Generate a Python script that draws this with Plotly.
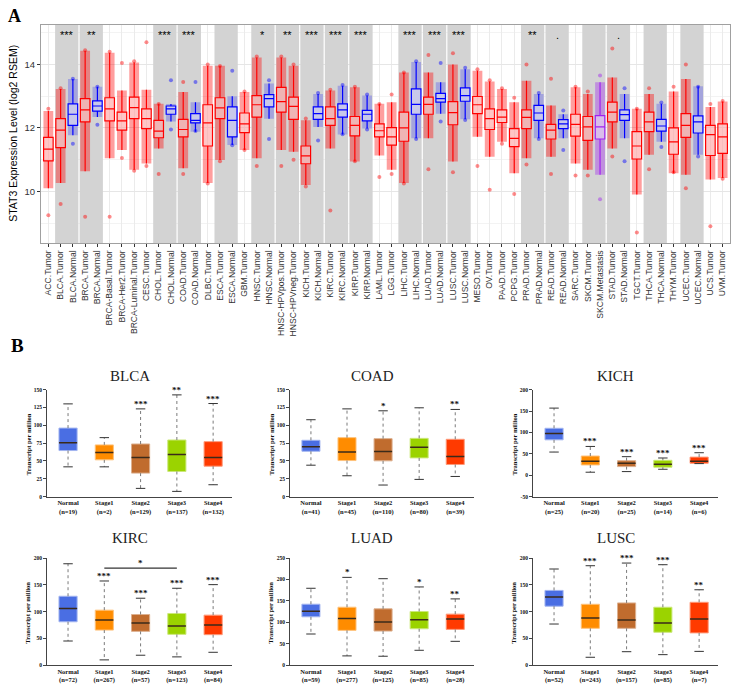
import plotly.graph_objects as go

# ---------------- Panel A data (STAT3 expression, log2 RSEM) ----------------
A_CATS = ["ACC.Tumor", "BLCA.Tumor", "BLCA.Normal", "BRCA.Tumor", "BRCA.Normal",
          "BRCA-Basal.Tumor", "BRCA-Her2.Tumor", "BRCA-Luminal.Tumor", "CESC.Tumor",
          "CHOL.Tumor", "CHOL.Normal", "COAD.Tumor", "COAD.Normal", "DLBC.Tumor",
          "ESCA.Tumor", "ESCA.Normal", "GBM.Tumor", "HNSC.Tumor", "HNSC.Normal",
          "HNSC-HPVpos.Tumor", "HNSC-HPVneg.Tumor", "KICH.Tumor", "KICH.Normal",
          "KIRC.Tumor", "KIRC.Normal", "KIRP.Tumor", "KIRP.Normal", "LAML.Tumor",
          "LGG.Tumor", "LIHC.Tumor", "LIHC.Normal", "LUAD.Tumor", "LUAD.Normal",
          "LUSC.Tumor", "LUSC.Normal", "MESO.Tumor", "OV.Tumor", "PAAD.Tumor",
          "PCPG.Tumor", "PRAD.Tumor", "PRAD.Normal", "READ.Tumor", "READ.Normal",
          "SARC.Tumor", "SKCM.Tumor", "SKCM.Metastasis", "STAD.Tumor", "STAD.Normal",
          "TGCT.Tumor", "THCA.Tumor", "THCA.Normal", "THYM.Tumor", "UCEC.Tumor",
          "UCEC.Normal", "UCS.Tumor", "UVM.Tumor"]
A_GROUP = ["T", "T", "N", "T", "N", "T", "T", "T", "T", "T", "N", "T", "N", "T",
           "T", "N", "T", "T", "N", "T", "T", "T", "N", "T", "N", "T", "N", "T",
           "T", "T", "N", "T", "N", "T", "N", "T", "T", "T", "T", "T", "N", "T",
           "N", "T", "T", "M", "T", "N", "T", "T", "N", "T", "T", "N", "T", "T"]
A_Q1 = [10.96, 11.38, 12.08, 12.19, 12.53, 12.22, 11.93, 12.29, 11.98, 11.69, 12.43,
        11.72, 12.16, 11.43, 12.29, 11.72, 11.85, 12.34, 12.66, 12.50, 12.27, 10.87,
        12.27, 12.08, 12.34, 11.75, 12.22, 11.72, 11.46, 11.58, 12.43, 12.43, 12.81,
        12.10, 12.84, 12.45, 11.95, 12.17, 11.41, 11.98, 12.24, 11.65, 11.98, 11.74,
        11.61, 11.65, 12.19, 12.24, 11.02, 11.88, 11.90, 11.17, 11.70, 11.84, 11.13,
        11.20]
A_MED = [11.33, 11.93, 12.43, 12.57, 12.69, 12.60, 12.22, 12.64, 12.29, 11.90, 12.60,
         11.95, 12.24, 12.16, 12.63, 12.24, 12.13, 12.73, 12.92, 12.83, 12.68, 11.12,
         12.45, 12.29, 12.57, 12.08, 12.43, 11.91, 11.72, 12.00, 12.74, 12.74, 12.92,
         12.48, 13.02, 12.73, 12.29, 12.34, 11.67, 12.33, 12.47, 11.93, 12.13, 12.11,
         12.03, 12.03, 12.50, 12.42, 11.43, 12.19, 12.06, 11.56, 12.08, 12.19, 11.79,
         11.72]
A_Q3 = [11.70, 12.29, 12.76, 12.92, 12.85, 12.95, 12.50, 12.97, 12.60, 12.24, 12.69,
        12.27, 12.45, 12.73, 12.95, 12.66, 12.47, 13.02, 13.05, 13.28, 12.97, 11.43,
        12.66, 12.66, 12.76, 12.36, 12.55, 12.13, 12.01, 12.50, 13.23, 12.97, 13.09,
        12.83, 13.26, 12.99, 12.60, 12.57, 11.98, 12.57, 12.71, 12.11, 12.26, 12.43,
        12.36, 12.39, 12.81, 12.57, 11.88, 12.50, 12.27, 12.00, 12.45, 12.38, 12.08,
        12.13]
A_LO = [10.10, 10.26, 11.77, 10.63, 12.34, 11.04, 11.30, 10.68, 10.88, 11.35, 12.20,
        10.73, 11.88, 10.26, 10.99, 11.46, 11.30, 11.04, 12.29, 11.30, 11.25, 10.20,
        12.03, 11.35, 11.79, 10.94, 11.98, 11.13, 10.68, 10.26, 11.67, 11.67, 12.45,
        10.94, 12.27, 11.72, 11.09, 11.56, 10.57, 11.04, 11.67, 11.09, 11.67, 10.88,
        10.68, 10.52, 11.35, 11.67, 9.90, 11.15, 11.56, 10.57, 10.52, 11.15, 10.37,
        10.42]
A_HI = [12.53, 13.23, 13.54, 14.43, 13.30, 14.37, 13.18, 14.06, 13.20, 12.76, 12.75,
        13.13, 12.81, 13.96, 13.96, 13.00, 13.13, 14.22, 13.40, 14.22, 13.96, 12.24,
        13.07, 13.18, 13.33, 13.28, 13.02, 12.76, 12.81, 13.75, 14.08, 13.75, 13.44,
        14.00, 13.85, 13.80, 13.46, 13.23, 12.81, 13.49, 13.07, 12.71, 12.43, 13.28,
        13.07, 13.44, 13.59, 13.07, 12.60, 13.07, 12.76, 13.15, 13.54, 13.31, 12.66,
        12.83]
A_PT_LO = [9.25, 9.60, 11.50, 9.20, 12.10, 9.20, 11.05, 10.65, 10.80, 10.55, 11.95,
           10.55, 11.90, 10.25, 10.95, 11.45, 11.30, 10.80, 11.65, 10.80, 11.00, 10.15,
           11.60, 9.40, 11.80, 10.95, 11.95, 10.45, 10.55, 10.25, 11.65, 10.70, 12.20,
           10.60, 12.25, 10.80, 10.05, 11.50, 9.92, 10.85, 11.65, 10.55, 11.30, 10.50,
           10.50, 9.75, 11.10, 10.95, 8.70, 10.70, 11.40, 10.60, 10.10, 11.10, 8.90,
           10.40]
A_PT_HI = [12.60, 13.25, 13.55, 14.45, 13.30, 14.40, 14.05, 14.10, 14.70, 12.75, 13.50,
           13.45, 13.45, 14.00, 13.95, 13.80, 13.15, 14.25, 13.50, 14.25, 14.00, 12.30,
           13.10, 13.20, 13.35, 13.30, 13.05, 12.75, 13.05, 13.75, 14.10, 14.30, 14.05,
           14.35, 13.90, 13.85, 13.50, 13.25, 12.95, 14.00, 13.10, 13.55, 12.55, 13.30,
           13.15, 13.65, 14.50, 13.25, 12.60, 13.25, 12.80, 13.30, 14.00, 13.30, 12.75,
           12.85]
# tumour/normal pairs shaded in grey (index of first member) and significance labels
A_PAIR_START = [1, 3, 9, 11, 14, 17, 19, 21, 23, 25, 29, 31, 33, 39, 41, 44, 46, 49, 52]
A_PAIR_SIG = ["***", "**", "***", "***", "", "*", "**", "***", "***", "***", "***",
              "***", "***", "**", ".", "", ".", "", ""]
A_YRANGE = [8.375, 15.25]

# ---------------- Panel B data (Transcript per million by stage) ----------------
B_CANCERS = ["BLCA", "COAD", "KICH", "KIRC", "LUAD", "LUSC"]
B_GROUPS = ["Normal", "Stage1", "Stage2", "Stage3", "Stage4"]
B_N = [[19, 2, 129, 137, 132], [41, 45, 110, 80, 39], [25, 20, 25, 14, 6],
       [72, 267, 57, 123, 84], [59, 277, 125, 85, 28], [52, 243, 157, 85, 7]]
B_Q1 = [[64.6, 51.6, 33.0, 35.3, 42.7], [63.6, 50.6, 50.2, 54.3, 45.1],
        [82.7, 24.1, 20.2, 18.7, 27.9], [81.1, 65.6, 63.2, 57.6, 57.0],
        [113.0, 81.3, 79.7, 85.1, 83.6], [110.2, 68.9, 68.9, 61.5, 60.3]]
B_MED = [[75.7, 61.8, 54.8, 59.0, 54.8], [70.1, 62.7, 63.2, 69.2, 56.2],
         [97.4, 32.6, 27.9, 25.6, 32.6], [105.9, 84.2, 78.6, 73.1, 74.9],
         [126.2, 109.1, 100.6, 106.0, 107.6], [127.4, 88.0, 84.3, 78.8, 86.2]]
B_Q3 = [[96.1, 72.5, 73.8, 79.4, 77.1], [79.0, 82.7, 81.3, 81.7, 80.4],
        [109.7, 44.9, 34.1, 34.9, 42.4], [128.8, 102.8, 94.7, 96.6, 93.5],
        [142.4, 135.4, 131.6, 125.4, 119.2], [139.7, 113.8, 116.3, 108.3, 117.5]]
B_LO = [[41.8, 41.8, 11.6, 7.4, 16.7], [44.1, 29.3, 16.3, 24.2, 28.3],
        [54.2, 7.1, 8.6, 14.0, 27.2], [45.2, 9.9, 18.6, 15.5, 24.1],
        [72.8, 21.7, 20.9, 34.8, 55.7], [76.9, 14.8, 25.2, 19.7, 25.8]]
B_HI = [[130.0, 82.7, 123.0, 142.6, 130.5], [107.8, 123.0, 120.3, 124.5, 122.2],
        [156.8, 67.3, 43.4, 40.3, 52.6], [189.5, 157.3, 125.1, 143.7, 150.5],
        [179.6, 205.1, 202.0, 182.7, 154.8], [179.7, 185.8, 190.8, 187.7, 140.9]]
B_SIG = [["", "", "***", "**", "***"], ["", "", "*", "", "**"],
         ["", "***", "***", "***", "***"], ["", "***", "***", "***", "***"],
         ["", "*", "", "*", "**"], ["", "***", "***", "***", "**"]]
B_YRANGE = [[0, 150], [0, 150], [-50, 200], [0, 200], [0, 250], [0, 200]]
B_YDTICK = [25, 25, 50, 50, 50, 50]
# KIRC Stage1 vs Stage3 bracket
KIRC_BRACKET = {"from": 1, "to": 3, "y": 181.4, "sig": "*"}

# ---------------- styling ----------------
W, H = 735, 690
def fx(p):
    return p / W
def fy(p):
    return 1 - p / H

GROUP_RGB = {"T": (255, 0, 0), "N": (0, 0, 255), "M": (160, 32, 240)}
GROUP_ALPHA = {"T": 0.38, "N": 0.22, "M": 0.38}
B_FILL = ["#4A6EE3", "#FF8C00", "#C06C2E", "#9BD300", "#FF3A00"]
B_EDGE = ["#A3B5F0", "#FFC27A", "#DDB08F", "#CBE87A", "#FF9A7A"]
SERIF = "Liberation Serif, Times New Roman, serif"
SANS = "Liberation Sans, Arial, sans-serif"

fig = go.Figure()

# ---- Panel A ----
nA = len(A_CATS)
xs = list(range(nA))
fig.add_trace(go.Bar(
    x=[s + 0.5 for s in A_PAIR_START], base=[A_YRANGE[0]] * len(A_PAIR_START),
    y=[A_YRANGE[1] - A_YRANGE[0]] * len(A_PAIR_START), width=1.9,
    marker=dict(color="#D3D3D3", line=dict(width=0)), hoverinfo="skip",
    showlegend=False, xaxis="x", yaxis="y"))

for g, (r, gg, b) in GROUP_RGB.items():
    idx = [i for i in xs if A_GROUP[i] == g]
    al = GROUP_ALPHA[g]
    fig.add_trace(go.Bar(
        x=idx, base=[A_LO[i] for i in idx],
        y=[A_HI[i] - A_LO[i] for i in idx], width=0.8,
        marker=dict(color=f"rgba({r},{gg},{b},{al})", line=dict(width=0)),
        hoverinfo="skip", showlegend=False, xaxis="x", yaxis="y"))
    fig.add_trace(go.Scatter(
        x=idx + idx, y=[A_PT_LO[i] for i in idx] + [A_PT_HI[i] for i in idx],
        mode="markers", marker=dict(size=4, color=f"rgba({r},{gg},{b},0.45)"),
        hoverinfo="skip", showlegend=False, xaxis="x", yaxis="y"))
    fig.add_trace(go.Box(
        x=idx, q1=[A_Q1[i] for i in idx], median=[A_MED[i] for i in idx],
        q3=[A_Q3[i] for i in idx], lowerfence=[A_LO[i] for i in idx],
        upperfence=[A_HI[i] for i in idx], width=0.78, whiskerwidth=0,
        fillcolor="rgba(255,255,255,0.4)", line=dict(color=f"rgb({r},{gg},{b})", width=1.2),
        boxpoints=False, showlegend=False, xaxis="x", yaxis="y"))

annotations = []
for s, sig in zip(A_PAIR_START, A_PAIR_SIG):
    if sig:
        annotations.append(dict(x=s + 0.5, y=14.92, xref="x", yref="y", text=sig,
                                showarrow=False, xanchor="center", yanchor="middle",
                                font=dict(family=SANS, size=11, color="#000")))

layout = dict(
    xaxis=dict(domain=[fx(41), fx(730)], range=[-0.6, nA - 0.4], anchor="y",
               tickmode="array", tickvals=xs, ticktext=A_CATS, tickangle=-90,
               tickfont=dict(family=SANS, size=8.6, color="#333"),
               ticks="outside", ticklen=3, tickcolor="#333",
               showgrid=True, gridcolor="#EBEBEB", gridwidth=1, zeroline=False,
               showline=True, linecolor="#A0A0A0", mirror=True),
    yaxis=dict(domain=[fy(242), fy(22)], range=A_YRANGE, anchor="x",
               tick0=10, dtick=2, tickfont=dict(family=SANS, size=9.5, color="#333"),
               ticks="outside", ticklen=3, tickcolor="#333",
               showgrid=True, gridcolor="#E6E6E6", gridwidth=1, zeroline=False,
               minor=dict(dtick=1, tick0=9, showgrid=True, gridcolor="#F3F3F3"),
               showline=True, linecolor="#A0A0A0", mirror=True),
)
annotations.append(dict(x=fx(13), y=fy(132), xref="paper", yref="paper",
                        xanchor="center", yanchor="middle",
                        text="STAT3 Expression Level (log2 RSEM)", textangle=-90,
                        showarrow=False, font=dict(family=SANS, size=10.5, color="#000")))
annotations.append(dict(x=fx(15), y=fy(13), xref="paper", yref="paper", text="<b>A</b>",
                        xanchor="center", yanchor="middle",
                        showarrow=False, font=dict(family=SERIF, size=18, color="#000")))
annotations.append(dict(x=fx(17), y=fy(345), xref="paper", yref="paper", text="<b>B</b>",
                        xanchor="center", yanchor="middle",
                        showarrow=False, font=dict(family=SERIF, size=19, color="#000")))

# ---- Panel B ----
COL_X = [(47, 232), (290, 474), (533, 718)]
ROW_Y = [(390, 498), (560, 668)]
TITLE_Y = [376, 540]
for i, cancer in enumerate(B_CANCERS):
    k = i + 2
    r, c = divmod(i, 3)
    x0, x1 = COL_X[c]
    y0, y1 = ROW_Y[r]
    xa, ya = f"x{k}", f"y{k}"
    pos = list(range(len(B_GROUPS)))
    q1, med, q3, lo, hi = B_Q1[i], B_MED[i], B_Q3[i], B_LO[i], B_HI[i]
    # whiskers (dotted)
    wx, wy = [], []
    for p in pos:
        wx += [p, p, None, p, p, None]
        wy += [q3[p], hi[p], None, q1[p], lo[p], None]
    fig.add_trace(go.Scatter(x=wx, y=wy, mode="lines",
                             line=dict(color="#7A7A7A", width=1, dash="dot"),
                             hoverinfo="skip", showlegend=False, xaxis=xa, yaxis=ya))
    # caps
    cx, cy = [], []
    for p in pos:
        cx += [p - 0.13, p + 0.13, None, p - 0.13, p + 0.13, None]
        cy += [hi[p], hi[p], None, lo[p], lo[p], None]
    fig.add_trace(go.Scatter(x=cx, y=cy, mode="lines", line=dict(color="#333", width=1),
                             hoverinfo="skip", showlegend=False, xaxis=xa, yaxis=ya))
    # boxes
    fig.add_trace(go.Bar(x=pos, base=q1, y=[q3[p] - q1[p] for p in pos], width=0.5,
                         marker=dict(color=B_FILL, line=dict(color=B_EDGE, width=1)),
                         hoverinfo="skip", showlegend=False, xaxis=xa, yaxis=ya))
    # medians
    mx, my = [], []
    for p in pos:
        mx += [p - 0.25, p + 0.25, None]
        my += [med[p], med[p], None]
    fig.add_trace(go.Scatter(x=mx, y=my, mode="lines", line=dict(color="#3A2A1A", width=1.5),
                             hoverinfo="skip", showlegend=False, xaxis=xa, yaxis=ya))
    for p in pos:
        if B_SIG[i][p]:
            annotations.append(dict(x=p, y=hi[p], xref=xa, yref=ya, text=f"<b>{B_SIG[i][p]}</b>",
                                    showarrow=False, xanchor="center", yanchor="middle", yshift=5,
                                    font=dict(family=SERIF, size=9, color="#111")))
    lo_r, hi_r = B_YRANGE[i]
    tv = list(range(lo_r, hi_r + 1, B_YDTICK[i]))
    layout[f"xaxis{k}"] = dict(domain=[fx(x0), fx(x1)], range=[-0.58, 4.52], anchor=ya,
                               tickmode="array", tickvals=pos,
                               ticktext=[f"<b>{g}<br>(n={n})</b>" for g, n in zip(B_GROUPS, B_N[i])],
                               tickfont=dict(family=SERIF, size=6.5, color="#111"),
                               ticks="", showgrid=False, zeroline=False,
                               showline=True, linecolor="#444", linewidth=1)
    layout[f"yaxis{k}"] = dict(domain=[fy(y1), fy(y0)], range=[lo_r, hi_r], anchor=xa,
                               tickmode="array", tickvals=tv,
                               ticktext=[f"<b>{v}</b>" for v in tv],
                               tickfont=dict(family=SERIF, size=5.5, color="#111"),
                               ticks="outside", ticklen=3, tickcolor="#444",
                               showgrid=False, zeroline=False,
                               showline=True, linecolor="#444", linewidth=1)
    annotations.append(dict(x=fx((x0 + x1) / 2 - 10), y=fy(TITLE_Y[r]), xref="paper", yref="paper",
                            text=cancer, showarrow=False, xanchor="center", yanchor="middle",
                            font=dict(family=SERIF, size=15, color="#222")))
    annotations.append(dict(x=fx(x0 - 19), y=fy((y0 + y1) / 2 + 1), xref="paper", yref="paper",
                            text="<b>Transcript per million</b>", textangle=-90, showarrow=False,
                            xanchor="center", yanchor="middle",
                            font=dict(family=SERIF, size=6.5, color="#111")))
    if cancer == "KIRC":
        b = KIRC_BRACKET
        fig.add_trace(go.Scatter(x=[b["from"], b["to"]], y=[b["y"], b["y"]], mode="lines",
                                 line=dict(color="#333", width=1.2), hoverinfo="skip",
                                 showlegend=False, xaxis=xa, yaxis=ya))
        annotations.append(dict(x=(b["from"] + b["to"]) / 2, y=b["y"], xref=xa, yref=ya,
                                text=f"<b>{b['sig']}</b>", showarrow=False,
                                xanchor="center", yanchor="middle",
                                yshift=5, font=dict(family=SERIF, size=9, color="#111")))

fig.update_layout(
    width=W, height=H, margin=dict(l=0, r=0, t=0, b=0),
    paper_bgcolor="white", plot_bgcolor="rgba(0,0,0,0)",
    barmode="overlay", boxmode="overlay", showlegend=False,
    annotations=annotations, **layout)

fig.write_html("out.html", config={"displayModeBar": False},
               post_script="document.body.style.margin='0';document.body.style.padding='0';")
